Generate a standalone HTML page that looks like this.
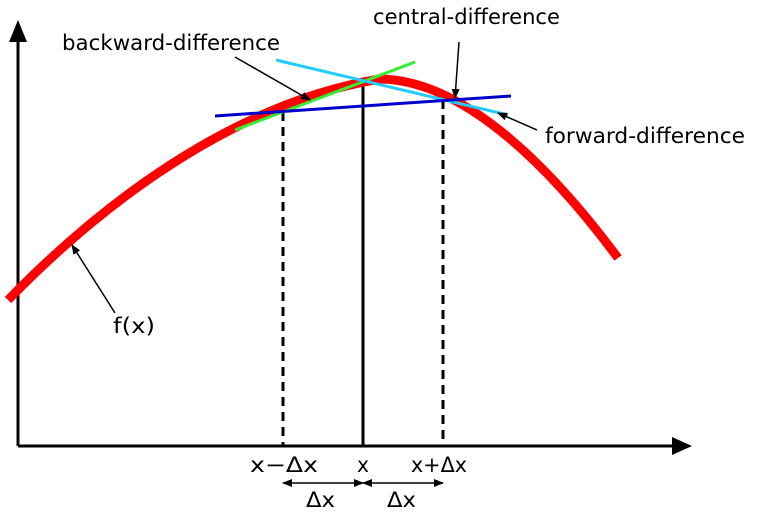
<!DOCTYPE html>
<html><head><style>html,body{margin:0;padding:0;background:#fff}</style></head>
<body>
<svg width="772" height="523" viewBox="0 0 772 523" xmlns="http://www.w3.org/2000/svg" font-family="DejaVu Sans, Liberation Sans, sans-serif">
<defs>
<marker id="a" markerWidth="10" markerHeight="8" refX="9" refY="4" orient="auto" markerUnits="userSpaceOnUse"><path d="M0,0 L10,4 L0,8 z" fill="#000"/></marker>
<marker id="b" markerWidth="10" markerHeight="8" refX="1" refY="4" orient="auto" markerUnits="userSpaceOnUse"><path d="M10,0 L0,4 L10,8 z" fill="#000"/></marker>
</defs>
<line x1="18" y1="446" x2="680" y2="446" stroke="#000" stroke-width="3"/>
<path d="M692,446 L672,437 L672,455 z" fill="#000"/>
<line x1="18" y1="446" x2="18" y2="35" stroke="#000" stroke-width="3"/>
<path d="M18,20 L9,42 L27,42 z" fill="#000"/>
<line x1="283" y1="112" x2="283" y2="446" stroke="#000" stroke-width="3" stroke-dasharray="9,6"/>
<line x1="363" y1="82" x2="363" y2="446" stroke="#000" stroke-width="3"/>
<line x1="443" y1="100" x2="443" y2="446" stroke="#000" stroke-width="3" stroke-dasharray="9,6"/>
<path d="M8,300 C120,185 250,100 380,79 C470,80 560,180 618,258" fill="none" stroke="#ff0000" stroke-width="9"/>
<line x1="235" y1="130" x2="415" y2="62" stroke="#33ee33" stroke-width="3"/>
<line x1="276" y1="60" x2="508" y2="115" stroke="#22ccff" stroke-width="3"/>
<line x1="215" y1="116" x2="511" y2="96" stroke="#0000cc" stroke-width="3"/>
<line x1="235" y1="57" x2="310" y2="100" stroke="#000" stroke-width="1.5" marker-end="url(#a)"/>
<line x1="459" y1="42" x2="455" y2="98" stroke="#000" stroke-width="1.5" marker-end="url(#a)"/>
<line x1="537" y1="130" x2="498" y2="113" stroke="#000" stroke-width="1.5" marker-end="url(#a)"/>
<line x1="115" y1="313" x2="72" y2="245" stroke="#000" stroke-width="1.5" marker-end="url(#a)"/>
<line x1="283" y1="483" x2="363" y2="483" stroke="#000" stroke-width="1.5" marker-start="url(#b)" marker-end="url(#a)"/>
<line x1="363" y1="483" x2="443" y2="483" stroke="#000" stroke-width="1.5" marker-start="url(#b)" marker-end="url(#a)"/>
<g font-size="21" fill="#000">
<text x="62" y="50" textLength="218" lengthAdjust="spacingAndGlyphs">backward-difference</text>
<text x="373" y="24" textLength="187" lengthAdjust="spacingAndGlyphs">central-difference</text>
<text x="545" y="143" textLength="200" lengthAdjust="spacingAndGlyphs">forward-difference</text>
<text x="113" y="333" textLength="42" lengthAdjust="spacingAndGlyphs">f(x)</text>
<text x="250" y="472" textLength="68" lengthAdjust="spacingAndGlyphs">x−Δx</text>
<text x="357" y="472" textLength="12" lengthAdjust="spacingAndGlyphs">x</text>
<text x="411" y="472" textLength="56" lengthAdjust="spacingAndGlyphs">x+Δx</text>
<text x="306" y="507" textLength="29" lengthAdjust="spacingAndGlyphs">Δx</text>
<text x="387" y="507" textLength="29" lengthAdjust="spacingAndGlyphs">Δx</text>
</g>
</svg>
</body></html>
